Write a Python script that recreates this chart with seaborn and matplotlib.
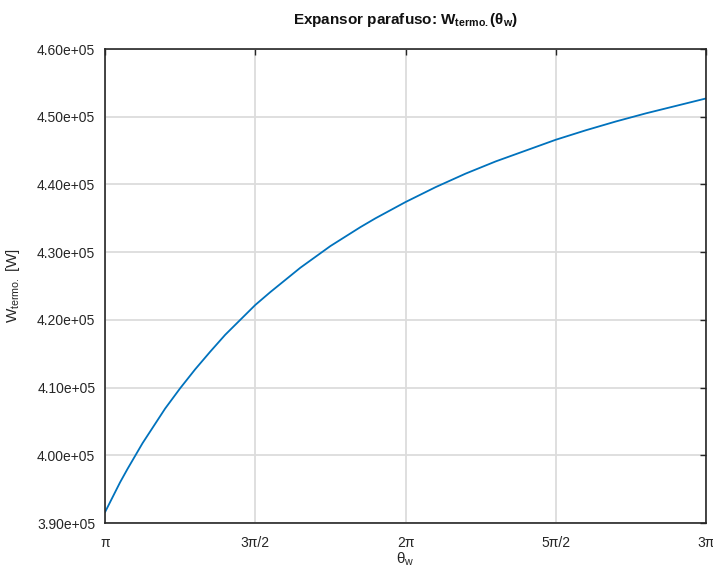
import numpy as np
import pandas as pd
import matplotlib
matplotlib.use("Agg")
import matplotlib.pyplot as plt
import seaborn as sns
from matplotlib.ticker import FormatStrFormatter

# theta_w in multiples of pi
theta_over_pi = [1.0, 1.025, 1.05, 1.075, 1.1, 1.125, 1.15, 1.175, 1.2, 1.25,
                 1.3, 1.35, 1.4, 1.45, 1.5, 1.55, 1.6, 1.65, 1.7, 1.75, 1.8,
                 1.85, 1.9, 1.95, 2.0, 2.1, 2.2, 2.3, 2.4, 2.5, 2.6, 2.7,
                 2.8, 2.9, 3.0]
w_termo = [391600, 393800, 396000, 398000, 399900, 401800, 403500, 405200,
           406900, 409900, 412700, 415300, 417800, 420000, 422200, 424100,
           425900, 427700, 429300, 430900, 432300, 433700, 435000, 436200,
           437400, 439600, 441600, 443400, 445000, 446600, 448000, 449300,
           450500, 451600, 452700]
x_ticks = [1.0, 1.5, 2.0, 2.5, 3.0]
x_tick_labels = ["π", "3π/2", "2π", "5π/2", "3π"]
y_ticks = [390000, 400000, 410000, 420000, 430000, 440000, 450000, 460000]

sns.set_style("white")
plt.rcParams['font.family'] = ['Liberation Sans', 'DejaVu Sans']
plt.rcParams['mathtext.fontset'] = 'custom'
plt.rcParams['mathtext.rm'] = 'Liberation Sans'
plt.rcParams['mathtext.it'] = 'Liberation Sans'
plt.rcParams['mathtext.bf'] = 'Liberation Sans:bold'

df = pd.DataFrame({"theta": theta_over_pi, "W": w_termo})

fig = plt.figure(figsize=(7.13, 5.68), dpi=100)
ax = fig.add_axes([0.1473, 0.0792, 0.8429, 0.8345])

sns.lineplot(data=df, x="theta", y="W", ax=ax, color="#0072BD", linewidth=1.3)

ax.set_xlim(1.0, 3.0)
ax.set_ylim(390000, 460000)
ax.set_xticks(x_ticks)
ax.set_xticklabels(x_tick_labels)
ax.set_yticks(y_ticks)
ax.yaxis.set_major_formatter(FormatStrFormatter('%.2e'))

ax.grid(True, color="#dcdcdc", linewidth=1.3)
ax.set_axisbelow(True)
for s in ax.spines.values():
    s.set_visible(True)
    s.set_color("#262626")
    s.set_linewidth(1.2)
ax.tick_params(axis='both', which='both', direction='in', length=4, width=1,
               color="#262626", labelcolor="#262626", labelsize=10,
               top=True, right=True)
ax.tick_params(axis='x', pad=9)
ax.tick_params(axis='y', pad=7)

ax.set_title(r"Expansor parafuso: W$_{\mathbf{termo.}}$($\mathbf{\theta}$$_{\mathbf{w}}$)",
             fontsize=11, fontweight='bold', color="#111111", pad=18)
ax.set_xlabel(r"$\theta_{\mathrm{w}}$", fontsize=11, color="#262626", labelpad=1)
ax.set_ylabel(r"W$_{\mathrm{termo.}}$ [W]", fontsize=11, color="#262626", labelpad=11)

fig.savefig("out.png", dpi=100)
